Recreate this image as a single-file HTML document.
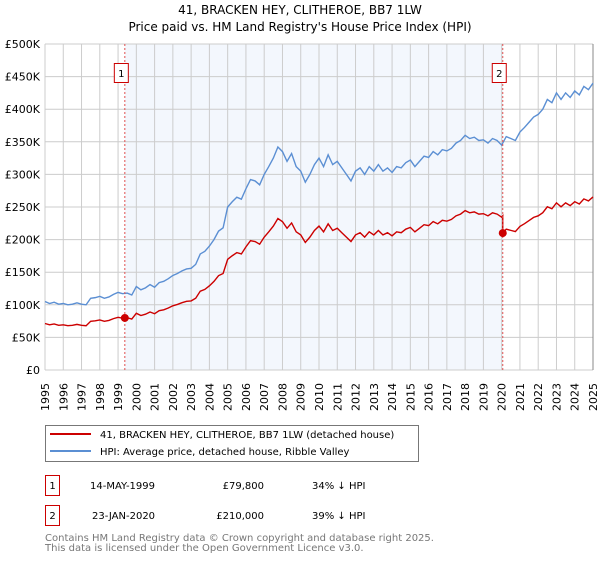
<!DOCTYPE html>
<html><head><meta charset="utf-8"><style>
body{margin:0;background:#fff;font-family:"DejaVu Sans","Liberation Sans",sans-serif;}
svg text{font-family:"DejaVu Sans","Liberation Sans",sans-serif;}
</style></head><body>
<svg id="c" width="600" height="560" xmlns="http://www.w3.org/2000/svg">
<text x="300" y="14" text-anchor="middle" font-size="12">41, BRACKEN HEY, CLITHEROE, BB7 1LW</text>
<text x="300" y="31" text-anchor="middle" font-size="12">Price paid vs. HM Land Registry's House Price Index (HPI)</text>
<g id="plot"></g>
<g>
<rect x="45.5" y="425.5" width="373" height="36" fill="#fff" stroke="#777"/>
<line x1="50" y1="434" x2="91" y2="434" stroke="#cc0000" stroke-width="2"/>
<text x="100" y="438" font-size="10">41, BRACKEN HEY, CLITHEROE, BB7 1LW (detached house)</text>
<line x1="50" y1="451" x2="91" y2="451" stroke="#5b8fd3" stroke-width="2"/>
<text x="100" y="455" font-size="10">HPI: Average price, detached house, Ribble Valley</text>
</g>
<g font-size="10">
<rect x="45.5" y="475.5" width="14" height="20" fill="#fff" stroke="#cc0000"/>
<text x="52.5" y="489" text-anchor="middle">1</text>
<text x="90" y="489">14-MAY-1999</text>
<text x="264" y="489" text-anchor="end">£79,800</text>
<text x="312" y="489">34% ↓ HPI</text>
<rect x="45.5" y="505.5" width="14" height="20" fill="#fff" stroke="#cc0000"/>
<text x="52.5" y="519" text-anchor="middle">2</text>
<text x="92" y="519">23-JAN-2020</text>
<text x="264" y="519" text-anchor="end">£210,000</text>
<text x="312" y="519">39% ↓ HPI</text>
</g>
<text x="45" y="541" font-size="10" fill="#777">Contains HM Land Registry data © Crown copyright and database right 2025.</text>
<text x="45" y="551" font-size="10" fill="#777">This data is licensed under the Open Government Licence v3.0.</text>
</svg>
<script>
const yearTicks=[1995,1996,1997,1998,1999,2000,2001,2002,2003,2004,2005,2006,2007,2008,2009,2010,2011,2012,2013,2014,2015,2016,2017,2018,2019,2020,2021,2022,2023,2024,2025];
const valueTicks=[0,50,100,150,200,250,300,350,400,450,500];
const valueTickLabels=["£0","£50K","£100K","£150K","£200K","£250K","£300K","£350K","£400K","£450K","£500K"];
const hpiStartYear=1995;
const hpiQuarterly=[105,102,104,101,102,100,101,103,101,100,110,111,113,110,112,116,119,117,118,115,128,123,126,131,127,134,136,140,145,148,152,155,156,162,178,182,190,200,213,218,250,258,265,262,278,292,290,284,300,312,325,342,335,320,332,312,305,288,300,315,325,312,330,315,320,310,300,290,305,310,300,312,305,315,305,310,303,312,310,318,322,312,320,328,326,335,330,338,336,340,348,352,360,355,357,352,353,348,355,352,345,358,355,352,365,372,380,388,392,400,415,410,425,415,425,418,428,422,435,430,440];
const saleDates=[1999.37,2020.06];
const salePrices=[79.8,210];
const saleLabels=["1","2"];

const NS="http://www.w3.org/2000/svg";
const L=45,R=593,T=44,B=370;
const xs=y=>L+(y-1995)/30*(R-L);
const ys=v=>B-v/500*(B-T);
const plot=document.getElementById('plot');
function mk(tag,attrs,parent){const e=document.createElementNS(NS,tag);for(const k in attrs)e.setAttribute(k,attrs[k]);(parent||plot).appendChild(e);return e;}

const shade=mk('rect',{x:xs(saleDates[0]),y:T,width:xs(saleDates[1])-xs(saleDates[0]),height:B-T,fill:'#eef3fc',opacity:0.7});



yearTicks.forEach(y=>{
 const g=mk('line',{x1:xs(y),x2:xs(y),y1:T,y2:B,stroke:'#ccc','stroke-width':1});
 
 
 const t=mk('text',{x:0,y:0,'font-size':11,'text-anchor':'end',transform:`translate(${xs(y)+4},${B+13}) rotate(-90)`});
 t.textContent=y;
 
 
});
valueTicks.forEach((v,i)=>{
 const g=mk('line',{x1:L,x2:R,y1:ys(v),y2:ys(v),stroke:'#ccc','stroke-width':1});
 
 
 const t=mk('text',{x:L-5,y:ys(v)+4,'font-size':11,'text-anchor':'end'});
 t.textContent=valueTickLabels[i];
 
 
});
const edge=mk('line',{x1:R,x2:R,y1:T,y2:B,stroke:'#888','stroke-width':1});



const dates=hpiQuarterly.map((v,i)=>hpiStartYear+i*0.25);
function hpiAt(d){const i=Math.min(Math.floor((d-hpiStartYear)/0.25),hpiQuarterly.length-2);const f=(d-dates[i])/0.25;return hpiQuarterly[i]*(1-f)+hpiQuarterly[i+1]*f;}
const hpiPts=dates.map((d,i)=>xs(d)+','+ys(hpiQuarterly[i]));
const hpiLine=mk('polyline',{points:hpiPts.join(' '),fill:'none',stroke:'#5b8fd3','stroke-width':1.4});



const r1=salePrices[0]/hpiAt(saleDates[0]),r2=salePrices[1]/hpiAt(saleDates[1]);
const propPts=[];
dates.forEach((d,i)=>{
 if(d>saleDates[1]&&dates[i-1]<=saleDates[1]){propPts.push([saleDates[1],hpiAt(saleDates[1])*r1]);propPts.push([saleDates[1],salePrices[1]]);}
 const r=d<saleDates[1]?r1:r2;propPts.push([d,hpiQuarterly[i]*r]);
});
const propLine=mk('polyline',{points:propPts.map(p=>xs(p[0])+','+ys(p[1])).join(' '),fill:'none',stroke:'#cc0000','stroke-width':1.4});



saleDates.forEach((d,i)=>{
 const v=mk('line',{x1:xs(d),x2:xs(d),y1:T,y2:B,stroke:'#e05050','stroke-width':1,'stroke-dasharray':'2,2'});
 
 
 const b=mk('rect',{x:xs(d)-10.5,y:63.5,width:14,height:19,fill:'#fff',stroke:'#cc0000'});
 
 
 const t=mk('text',{x:xs(d)-3.5,y:77,'font-size':10,'text-anchor':'middle'});
 t.textContent=saleLabels[i];
 
 
 const c=mk('circle',{cx:xs(d),cy:ys(salePrices[i]),r:4,fill:'#cc0000'});
 
 
});
</script>
</body></html>
